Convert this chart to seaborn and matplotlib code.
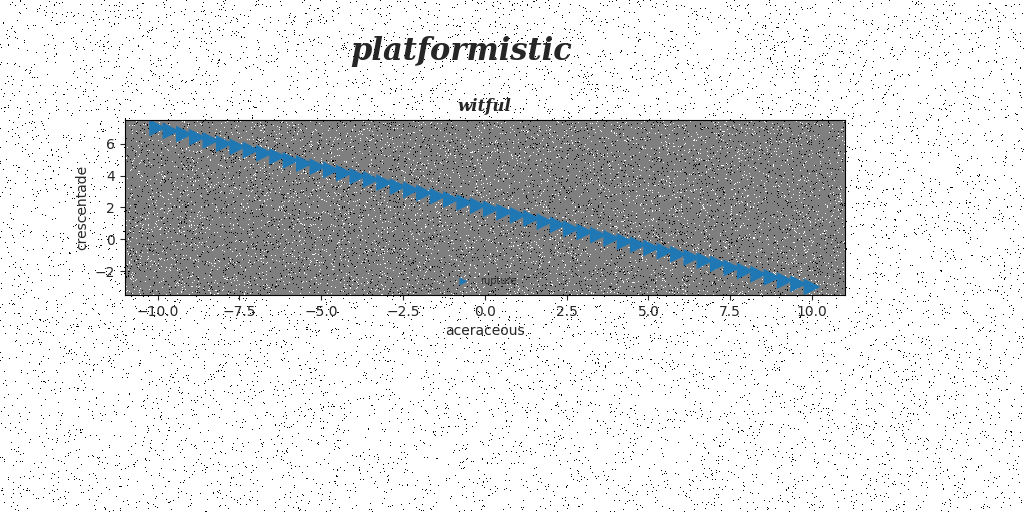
import numpy as np
import pandas as pd
import seaborn as sns
import matplotlib.pyplot as plt

# data
x_vals = [-10.0, -9.59, -9.18, -8.78, -8.37, -7.96, -7.55, -7.14, -6.73, -6.33,
          -5.92, -5.51, -5.10, -4.69, -4.29, -3.88, -3.47, -3.06, -2.65, -2.24,
          -1.84, -1.43, -1.02, -0.61, -0.20, 0.20, 0.61, 1.02, 1.43, 1.84,
          2.24, 2.65, 3.06, 3.47, 3.88, 4.29, 4.69, 5.10, 5.51, 5.92,
          6.33, 6.73, 7.14, 7.55, 7.96, 8.37, 8.78, 9.18, 9.59, 10.0]
y_vals = [7.0, 6.8, 6.6, 6.4, 6.2, 6.0, 5.8, 5.6, 5.4, 5.2,
          4.95, 4.75, 4.55, 4.35, 4.15, 3.95, 3.75, 3.55, 3.3, 3.1,
          2.9, 2.7, 2.5, 2.3, 2.1, 1.9, 1.7, 1.5, 1.3, 1.1,
          0.9, 0.65, 0.45, 0.25, 0.05, -0.15, -0.35, -0.55, -0.75, -0.95,
          -1.15, -1.35, -1.55, -1.8, -2.0, -2.2, -2.4, -2.6, -2.8, -3.0]
df = pd.DataFrame({'x': x_vals, 'y': y_vals, 'series': 'rupture'})

sns.set_style('white')
fig = plt.figure(figsize=(10.24, 5.12), dpi=100)

# speckle texture on the figure background, in its own axes behind everything
rng = np.random.default_rng(3)
bg = np.ones((512, 1024, 3))
bg[rng.random((512, 1024)) < 0.02] = 0
bax = fig.add_axes([0, 0, 1, 1], zorder=-1)
bax.imshow(bg, aspect='auto', interpolation='nearest')
bax.axis('off')

ax = fig.add_axes([0.122, 0.424, 0.703, 0.342])

# speckled grey inside the axes
tex = np.full((175, 720, 3), 0.5)
r = rng.random((175, 720))
tex[r < 0.04] = 0
tex[(r > 0.04) & (r < 0.08)] = 1
ax.imshow(tex, extent=[-11, 11, -3.5, 7.5], aspect='auto', zorder=0, interpolation='nearest')

sns.scatterplot(data=df, x='x', y='y', hue='series', marker='>', s=150,
                palette=['#1f77b4'], edgecolor='none', ax=ax, zorder=2)
ax.set_xlim(-11, 11)
ax.set_ylim(-3.5, 7.5)
ax.set_xticks([-10, -7.5, -5, -2.5, 0, 2.5, 5, 7.5, 10])
ax.set_yticks([-2, 0, 2, 4, 6])
ax.tick_params(left=True, bottom=True, labelsize=10)
for s in ax.spines.values():
    s.set_color('black')
ax.set_xlabel('aceraceous', fontsize=10)
ax.set_ylabel('crescentade', fontsize=10)
ax.set_title('witful', fontsize=12, fontstyle='italic', fontweight='bold', family='serif')
leg = ax.legend(loc='lower center', frameon=False, fontsize=7, markerscale=0.5)

fig.suptitle('platformistic', x=0.45, y=0.93, fontsize=22, fontstyle='italic',
             fontweight='bold', family='serif')
fig.savefig('out.png', dpi=100)
